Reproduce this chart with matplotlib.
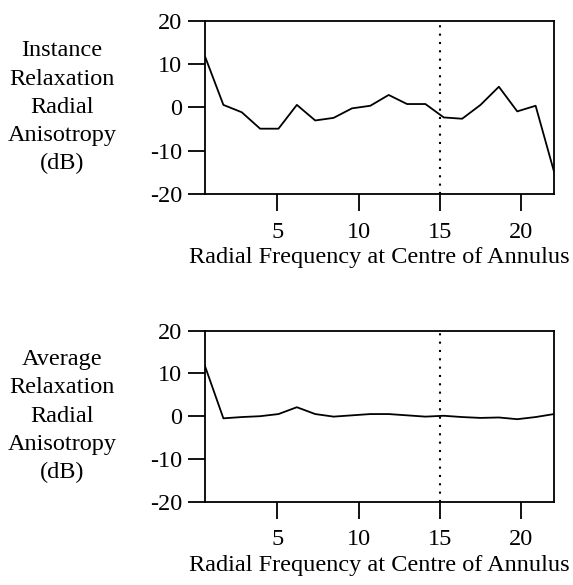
"""
Radial anisotropy of relaxation vs. radial frequency at the centre of the annulus
"""
import matplotlib
matplotlib.use('Agg')
import matplotlib.pyplot as plt

plt.rcParams['font.family'] = ['Liberation Serif', 'DejaVu Serif']
plt.rcParams['axes.unicode_minus'] = False

# Data
freq = [0.55, 1.68, 2.81, 3.94, 5.07, 6.20, 7.33, 8.46, 9.59, 10.72,
        11.85, 12.98, 14.11, 15.24, 16.37, 17.50, 18.63, 19.76, 20.89, 22.02]
instance_db = [11.8, 0.6, -1.1, -4.9, -4.9, 0.6, -3.0, -2.4, -0.2, 0.4,
               2.9, 0.8, 0.8, -2.3, -2.6, 0.6, 4.8, -0.9, 0.4, -14.8]
average_db = [11.7, -0.5, -0.2, 0.0, 0.5, 2.1, 0.5, -0.1, 0.2, 0.5,
              0.5, 0.2, -0.1, 0.1, -0.2, -0.4, -0.3, -0.7, -0.2, 0.5]
x_ticks = [5, 10, 15, 20]
y_ticks = [-20, -10, 0, 10, 20]
cutoff = 15
ylabels = ['Instance\nRelaxation\nRadial\nAnisotropy\n(dB)',
           'Average\nRelaxation\nRadial\nAnisotropy\n(dB)']
xlabel = 'Radial Frequency at Centre of Annulus'

fig = plt.figure(figsize=(5.73, 5.85), dpi=100)
ax_top = fig.add_axes([0.3578, 0.6684, 0.609, 0.2957])
ax_bot = fig.add_axes([0.3578, 0.1424, 0.609, 0.2923])

for ax, values, label in zip([ax_top, ax_bot], [instance_db, average_db], ylabels):
    ax.plot(freq, values, color='black', linewidth=1.3)
    ax.axvline(cutoff, color='black', linewidth=1.5, linestyle=(0, (1, 3)))
    ax.set_xlim(freq[0], freq[-1])
    ax.set_ylim(-20, 20)
    ax.set_xticks(x_ticks)
    ax.set_yticks(y_ticks)
    ax.tick_params(direction='out', length=12, width=1.3, labelsize=17.5, color='black')
    ax.tick_params(axis='x', pad=8)
    ax.tick_params(axis='y', pad=4.5)
    for spine in ax.spines.values():
        spine.set_linewidth(1.3)
    ax.set_xlabel(xlabel, fontsize=17.5, labelpad=3)
    # Multi-line label to the left of the axes
    pos = ax.get_position()
    fig.text(0.108, pos.y0 + pos.height / 2, label, fontsize=17.5,
             ha='center', va='center', multialignment='center', linespacing=1.45)

plt.savefig('out.png', dpi=100)
